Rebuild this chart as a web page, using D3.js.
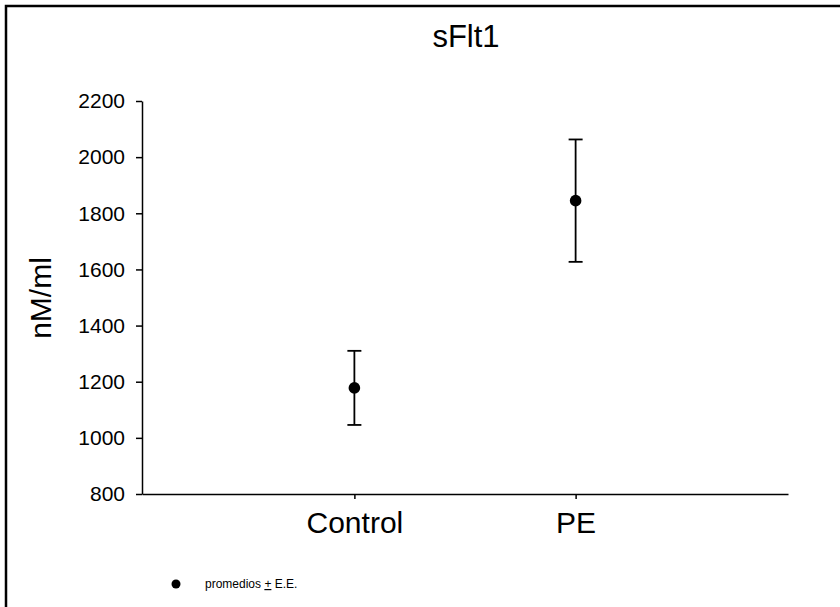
<!DOCTYPE html>
<html>
<head>
<meta charset="utf-8">
<script src="https://cdn.jsdelivr.net/npm/d3@7"></script>
<style>
  body { margin: 0; background: #fff; }
  svg { display: block; font-family: "Liberation Sans", Arial, sans-serif; }
  .axis path, .axis line { stroke: #000; stroke-width: 1.5; }
  .axis text { fill: #000; }
</style>
</head>
<body>
<script>
// data
const groups = ["Control", "PE"];
const means = [1178, 1845];
const errors = [132, 218];
const yTicks = [800, 1000, 1200, 1400, 1600, 1800, 2000, 2200];

const width = 840, height = 607;
const margin = { top: 101, right: 52, bottom: 113, left: 142 };

const svg = d3.select("body").append("svg")
    .attr("width", width)
    .attr("height", height);

// outer frame (right and bottom edges fall outside the picture)
svg.append("rect")
    .attr("x", 6).attr("y", 6)
    .attr("width", 900).attr("height", 700)
    .attr("fill", "none")
    .attr("stroke", "#000")
    .attr("stroke-width", 2.5);

const x = d3.scalePoint()
    .domain(groups)
    .range([margin.left, width - margin.right])
    .padding(0.96);

const y = d3.scaleLinear()
    .domain([800, 2200])
    .range([height - margin.bottom, margin.top]);

// y axis
const yAxis = svg.append("g")
    .attr("class", "axis")
    .attr("transform", "translate(" + margin.left + ",0)")
    .call(d3.axisLeft(y).tickValues(yTicks).tickFormat(d3.format("d"))
        .tickSize(6).tickPadding(11).tickSizeOuter(0));
yAxis.selectAll("text").style("font-size", "21px");

// x axis
const xAxis = svg.append("g")
    .attr("class", "axis")
    .attr("transform", "translate(0," + (height - margin.bottom) + ")")
    .call(d3.axisBottom(x).tickSize(5).tickPadding(13).tickSizeOuter(0));
xAxis.selectAll("text").style("font-size", "30px");

// error bars
const bars = svg.append("g").selectAll("g")
    .data(groups)
    .join("g");

bars.append("line")
    .attr("x1", d => x(d)).attr("x2", d => x(d))
    .attr("y1", (d, i) => y(means[i] + errors[i]))
    .attr("y2", (d, i) => y(means[i] - errors[i]))
    .attr("stroke", "#000").attr("stroke-width", 1.8);

[1, -1].forEach(s => {
    bars.append("line")
        .attr("x1", d => x(d) - 7).attr("x2", d => x(d) + 7)
        .attr("y1", (d, i) => y(means[i] + s * errors[i]))
        .attr("y2", (d, i) => y(means[i] + s * errors[i]))
        .attr("stroke", "#000").attr("stroke-width", 1.8);
});

bars.append("circle")
    .attr("cx", d => x(d))
    .attr("cy", (d, i) => y(means[i]))
    .attr("r", 5.8)
    .attr("fill", "#000");

// title
svg.append("text")
    .attr("x", 466).attr("y", 47)
    .attr("text-anchor", "middle")
    .style("font-size", "31px")
    .text("sFlt1");

// y label
svg.append("text")
    .attr("transform", "translate(51," + 298 + ") rotate(-90)")
    .attr("text-anchor", "middle")
    .style("font-size", "30px")
    .text("nM/ml");

// legend
svg.append("circle")
    .attr("cx", 176).attr("cy", 584).attr("r", 4.5)
    .attr("fill", "#000");

const leg = svg.append("text")
    .attr("x", 205).attr("y", 588)
    .style("font-size", "12px");
leg.append("tspan").text("promedios ");
leg.append("tspan").style("text-decoration", "underline").text("+");
leg.append("tspan").text(" E.E.");
</script>
</body>
</html>
